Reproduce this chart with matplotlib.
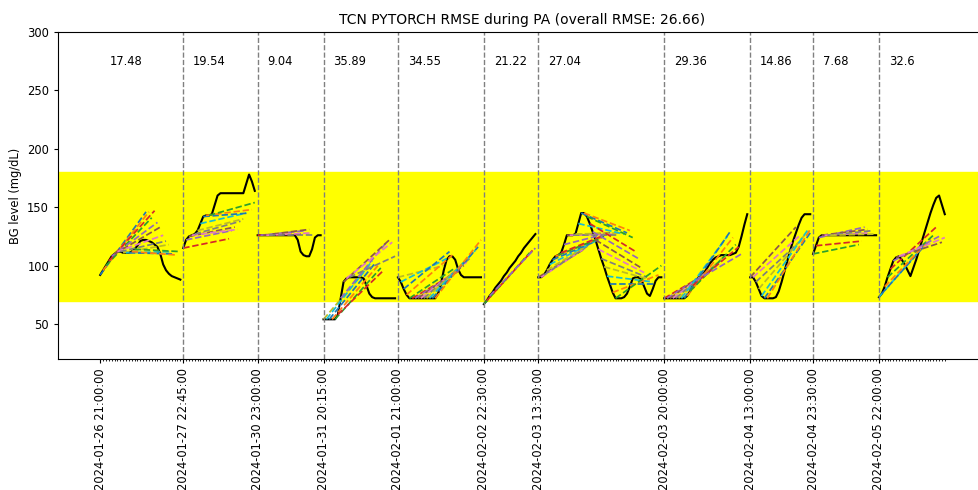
import matplotlib
matplotlib.use("Agg")
import matplotlib.pyplot as plt
import numpy as np

# segment start times and per-segment RMSE
seg_labels = ['2024-01-26 21:00:00', '2024-01-27 22:45:00', '2024-01-30 23:00:00',
              '2024-01-31 20:15:00', '2024-02-01 21:00:00', '2024-02-02 22:30:00',
              '2024-02-03 13:30:00', '2024-02-03 20:00:00', '2024-02-04 13:00:00',
              '2024-02-04 23:30:00', '2024-02-05 22:00:00']
seg_rmse = [17.48, 19.54, 9.04, 35.89, 34.55, 21.22, 27.04, 29.36, 14.86, 7.68, 32.6]
overall_rmse = 26.66
horizon = 16

# measured BG per segment (5 min samples)
bg1 = [92, 96, 100, 104, 108, 110, 112, 112, 111, 111, 111, 112, 114, 117, 121, 122,
       122, 121, 120, 118, 116, 110, 101, 96, 93, 91, 90, 89, 88]
bg2 = [115, 122, 125, 126, 127, 130, 136, 142, 143, 143, 144, 152, 160, 162, 162, 162,
       162, 162, 162, 162, 162, 162, 170, 178, 172, 164]
bg3 = [126, 126, 126, 126, 126, 126, 126, 126, 126, 126, 126, 126, 126, 126, 122, 112,
       109, 108, 108, 114, 124, 126, 126]
bg4 = [54, 54, 54, 54, 54, 58, 72, 86, 89, 90, 90, 90, 90, 90, 89, 83, 76, 73, 72, 72,
       72, 72, 72, 72, 72, 72]
bg5 = [90, 86, 80, 75, 72, 72, 72, 72, 72, 72, 72, 72, 72, 72, 76, 84, 96, 105, 108, 108,
       105, 97, 92, 90, 90, 90, 90, 90, 90, 90]
bg6 = [67, 70, 74, 77, 81, 84, 87, 91, 94, 98, 101, 104, 108, 111, 115, 118, 121, 124, 127]
bg7 = [90, 90, 92, 96, 101, 105, 108, 109, 111, 118, 126, 126, 126, 127, 136, 145, 145,
       142, 136, 129, 122, 114, 106, 99, 91, 84, 77, 72, 72, 72, 73, 76, 82, 89, 90, 90,
       88, 82, 76, 74, 80, 87, 90, 90]
bg8 = [72, 72, 72, 72, 72, 72, 72, 72, 74, 78, 83, 87, 90, 91, 94, 98, 102, 105, 107, 108,
       109, 109, 109, 109, 110, 111, 116, 125, 135, 144]
bg9 = [90, 90, 86, 80, 74, 72, 72, 72, 72, 73, 78, 86, 95, 104, 113, 121, 128, 135, 141,
       144, 144, 144]
bg10 = [110, 117, 124, 126, 126, 126, 126, 126, 126, 126, 126, 126, 126, 126, 126, 126,
        126, 126, 126, 126, 126, 126, 126]
bg11 = [73, 76, 82, 90, 97, 104, 107, 108, 105, 101, 96, 91, 98, 105, 113, 121, 129, 137,
        145, 152, 158, 160, 152, 144]

# predicted BG at the end of the horizon, one per start sample
pred1 = [146, 146, 141, 147, 137, 133, 126, 121, 118, 112, 110, 109, 112]
pred2 = [123, 130, 133, 131, 138, 140, 145, 145, 148, 154]
pred3 = [127, 130, 131, 128, 126]
pred4 = [100, 104, 102, 100, 98, 96, 120, 122, 120, 108]
pred5 = [100, 106, 112, 109, 98, 95, 97, 100, 103, 106, 110, 113, 116, 122]
pred6 = [111, 113, 115]
pred7 = [114, 116, 118, 120, 121, 122, 124, 125, 127, 128, 128, 127, 126, 128, 127, 128,
         130, 124, 112, 106, 98, 94, 90, 88, 86, 84, 92, 100]
pred8 = [95, 97, 100, 102, 105, 108, 125, 129, 124, 118, 116, 110]
pred9 = [133, 125, 122, 126, 130, 128, 131]
pred10 = [118, 121, 133, 131, 128, 130, 127]
pred11 = [118, 120, 123, 126, 133, 125, 120, 124]

bg_all = [bg1, bg2, bg3, bg4, bg5, bg6, bg7, bg8, bg9, bg10, bg11]
pred_all = [pred1, pred2, pred3, pred4, pred5, pred6, pred7, pred8, pred9, pred10, pred11]

plt.rcParams['font.size'] = 8.3
plt.rcParams['xtick.major.size'] = 2.9
plt.rcParams['ytick.major.size'] = 2.9
plt.rcParams['xtick.minor.size'] = 1.7

fig = plt.figure(figsize=(9.79, 4.9), dpi=100)
ax = fig.add_axes([0.0592, 0.2673, 0.949, 0.6673])
ax.axhspan(70, 180, color='yellow', zorder=0)

starts = []
pos = 0
for bg, pred, rmse in zip(bg_all, pred_all, seg_rmse):
    starts.append(pos)
    x = np.arange(pos, pos + len(bg))
    ax.plot(x, bg, color='black', lw=1.5)
    for j, end_val in enumerate(pred):
        k = min(j + horizon, len(bg) - 1)
        ax.plot([pos + j, pos + k], [bg[j], end_val], '--', lw=1.25)
    if pos > 0:
        ax.axvline(pos, color='gray', ls='--', lw=1)
    ax.text(pos + 3.5, 275, str(rmse), va='center')
    pos += len(bg)

total = pos
ax.set_xticks(starts)
ax.set_xticklabels(seg_labels, rotation=90)
ax.set_xticks(np.arange(total), minor=True)
ax.set_xlim(-0.05 * (total - 1), (total - 1) * 1.05)
ax.set_ylim(20, 300)
ax.set_ylabel('BG level (mg/dL)')
ax.set_title('TCN PYTORCH RMSE during PA (overall RMSE: {})'.format(overall_rmse), fontsize=10)

fig.savefig('out.png', dpi=100)
